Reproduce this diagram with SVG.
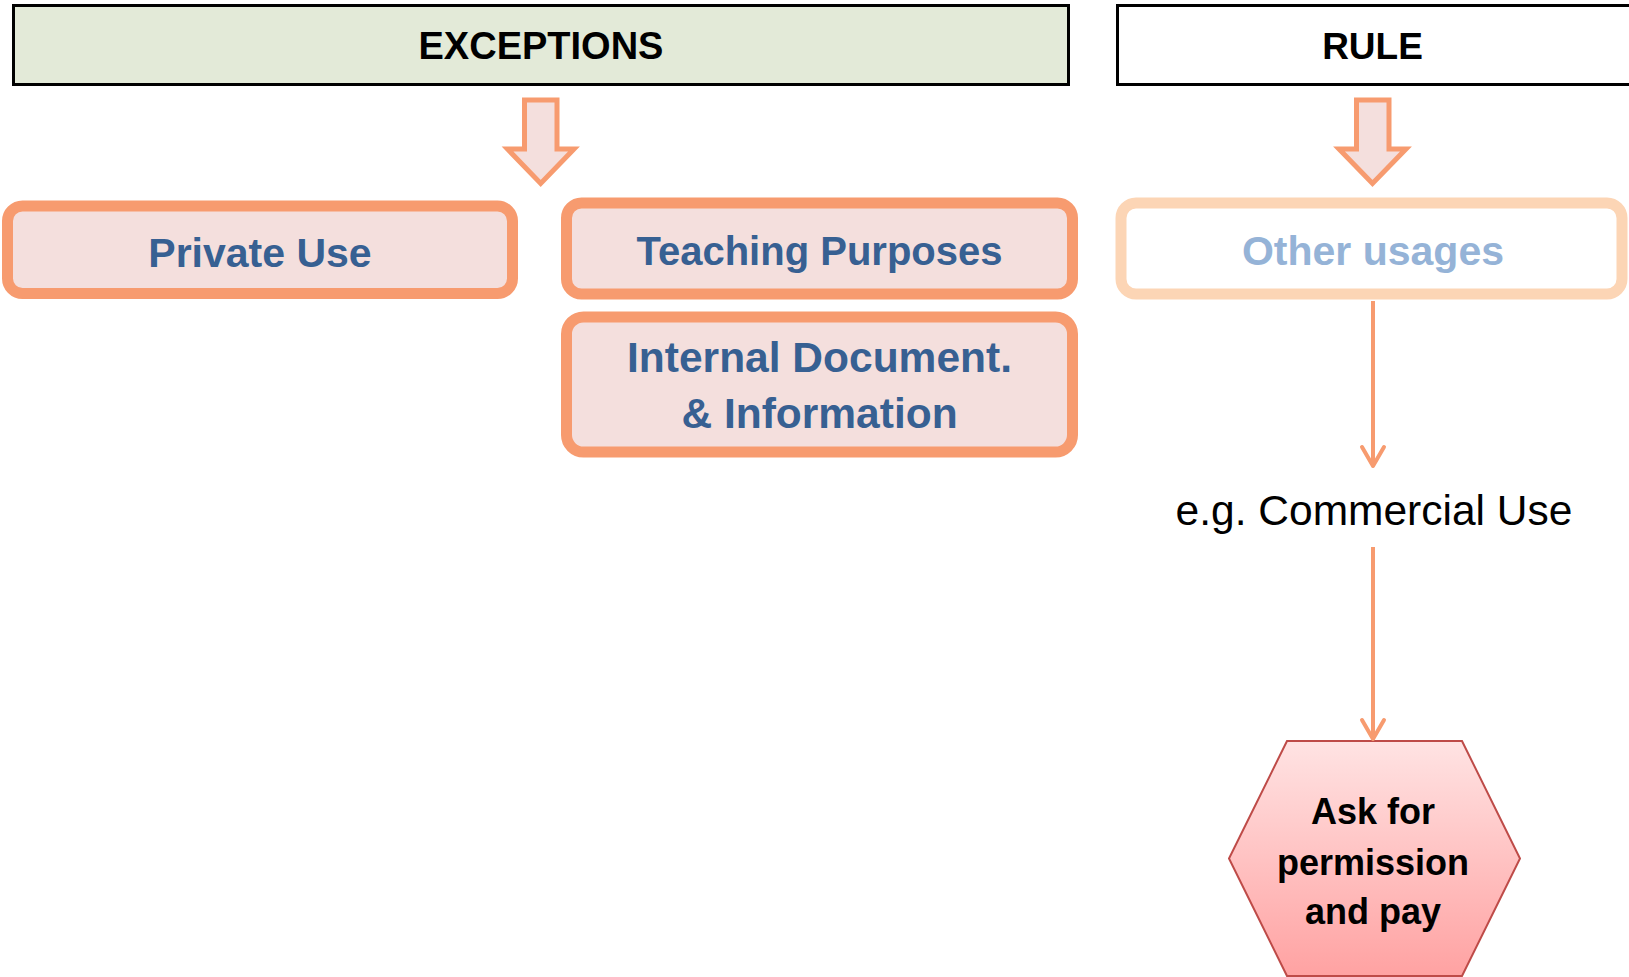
<svg xmlns="http://www.w3.org/2000/svg" width="1629" height="977" viewBox="0 0 1629 977">
<style>
.hdr{stroke:#000;stroke-width:3}
.lbl{font-family:"Liberation Sans",Arial,sans-serif;font-weight:bold;text-anchor:middle}
.exc{fill:#F4DFDD;stroke:#F79B6F;stroke-width:11}
.blk{fill:#F4DFDD;stroke:#F79B6F;stroke-width:5}
.con{stroke:#F79B6F;stroke-width:4;fill:none}
.blue{fill:#376092}
</style>
<defs>
<marker id="vhead" markerUnits="userSpaceOnUse" markerWidth="30" markerHeight="30" refX="20" refY="0" orient="auto" viewBox="-5 -15 30 30" overflow="visible">
<path d="M1,-11 L20,0 L1,11" fill="none" stroke="#F79B6F" stroke-width="4" stroke-linecap="round" stroke-linejoin="round"/>
</marker>
<linearGradient id="hexg" x1="0" y1="0" x2="0" y2="1">
<stop offset="0" stop-color="#FFE3E3"/>
<stop offset="1" stop-color="#FFA2A2"/>
</linearGradient>
</defs>
<g id="exceptions">
<rect class="hdr" x="13.5" y="5.5" width="1055" height="79" fill="#E3EAD8"/>
<text class="lbl" x="541" y="58.5" font-size="38" fill="#000">EXCEPTIONS</text>
</g>
<g id="rule">
<rect class="hdr" x="1117.5" y="5.5" width="1510" height="79" fill="#FFFFFF"/>
<text class="lbl" x="1372.5" y="58.5" font-size="37" fill="#000">RULE</text>
</g>
<g id="arrow-exceptions">
<path class="blk" d="M524.5,100 H557 V149 H574 L540.7,183.5 L507.5,149 H524.5 Z"/>
</g>
<g id="arrow-rule">
<path class="blk" d="M1356.5,100 H1389 V149 H1406 L1372.5,183.5 L1339,149 H1356.5 Z"/>
</g>
<g id="private-use">
<rect class="exc" x="7.5" y="206" width="505" height="87.5" rx="15"/>
<text class="lbl blue" x="260" y="266.5" font-size="41">Private Use</text>
</g>
<g id="teaching-purposes">
<rect class="exc" x="566.5" y="203" width="506" height="91" rx="15"/>
<text class="lbl blue" x="819.5" y="265" font-size="40">Teaching Purposes</text>
</g>
<g id="internal-document">
<rect class="exc" x="566.5" y="317" width="506" height="135" rx="17"/>
<text class="lbl blue" x="819.5" y="372" font-size="42.5">Internal Document.</text>
<text class="lbl blue" x="819.5" y="428" font-size="42.5">&amp; Information</text>
</g>
<g id="other-usages">
<rect x="1121" y="203" width="501" height="91" rx="15" fill="#FFFFFF" stroke="#FCD5B5" stroke-width="11"/>
<text class="lbl" x="1373" y="265" font-size="41" fill="#95B3D7">Other usages</text>
</g>
<g id="commercial-use">
<text x="1374" y="525" font-family="'Liberation Sans',Arial,sans-serif" font-size="42.5" fill="#000" text-anchor="middle">e.g. Commercial Use</text>
</g>
<g id="ask-permission">
<polygon points="1287,741 1462,741 1520,858.5 1462,976 1287,976 1229,858.5" fill="url(#hexg)" stroke="#BE4B48" stroke-width="2"/>
<text class="lbl" x="1373" y="824" font-size="36" fill="#000">Ask for</text>
<text class="lbl" x="1373" y="875" font-size="36" fill="#000">permission</text>
<text class="lbl" x="1373" y="924" font-size="36" fill="#000">and pay</text>
</g>
<g id="connectors">
<line class="con" x1="1373" y1="301" x2="1373" y2="466" marker-end="url(#vhead)"/>
<line class="con" x1="1373" y1="547" x2="1373" y2="739" marker-end="url(#vhead)"/>
</g>
</svg>
